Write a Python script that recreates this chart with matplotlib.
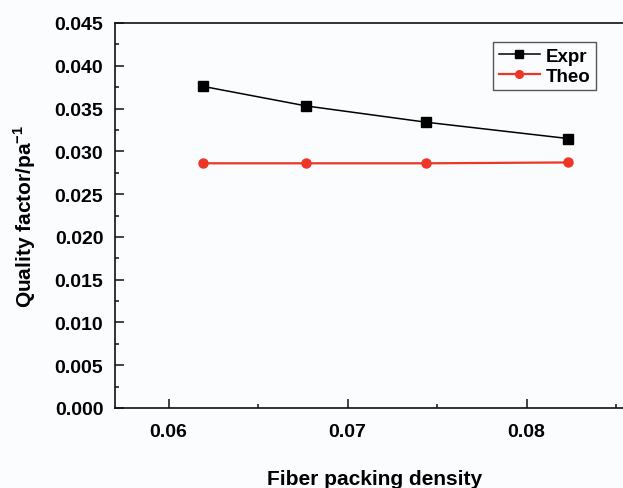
import matplotlib
matplotlib.use('Agg')
import matplotlib.pyplot as plt
from matplotlib.ticker import MultipleLocator

BG = '#fbfcfe'
RED = '#ef3526'

# data
packing_density = [0.0619, 0.0677, 0.0744, 0.0823]
expr_values = [0.0376, 0.0353, 0.0334, 0.0315]
theo_values = [0.0286, 0.0286, 0.0286, 0.0287]
series_labels = ['Expr', 'Theo']

plt.rcParams['font.family'] = ['Liberation Sans', 'DejaVu Sans']
plt.rcParams['font.weight'] = 'bold'
plt.rcParams['mathtext.fontset'] = 'custom'
plt.rcParams['mathtext.rm'] = 'Liberation Sans:bold'
plt.rcParams['mathtext.bf'] = 'Liberation Sans:bold'

fig = plt.figure(figsize=(6.23, 4.89), dpi=100)
fig.patch.set_facecolor(BG)
ax = fig.add_axes([115 / 623, 80 / 489, 510 / 623, 385 / 489])
ax.set_facecolor(BG)

ax.plot(packing_density, expr_values, color='black', lw=1.1, marker='s',
        markersize=6.5, label=series_labels[0])
ax.plot(packing_density, theo_values, color=RED, lw=1.6, marker='o',
        markersize=6.5, label=series_labels[1])

ax.set_xlim(0.057, 0.0855)
ax.set_ylim(0, 0.045)
ax.xaxis.set_major_locator(MultipleLocator(0.01))
ax.xaxis.set_minor_locator(MultipleLocator(0.005))
ax.yaxis.set_major_locator(MultipleLocator(0.005))
ax.yaxis.set_minor_locator(MultipleLocator(0.0025))
ax.xaxis.set_major_formatter(matplotlib.ticker.FormatStrFormatter('%.2f'))
ax.yaxis.set_major_formatter(matplotlib.ticker.FormatStrFormatter('%.3f'))

ax.tick_params(which='both', direction='in', width=1.1, color='#111111',
               top=False, right=False)
ax.tick_params(which='major', length=6.2, labelsize=14)
ax.tick_params(axis='y', which='major', pad=8.4)
ax.tick_params(axis='x', which='major', pad=10.8)
ax.tick_params(which='minor', length=3)
for lbl in ax.get_xticklabels() + ax.get_yticklabels():
    lbl.set_fontweight('bold')
for sp in ax.spines.values():
    sp.set_linewidth(1.2)
    sp.set_color('#111111')

ax.set_xlabel('Fiber packing density', fontsize=15, fontweight='bold')
ax.xaxis.set_label_coords(0.509, -0.158)
ax.set_ylabel(r'Quality factor/pa$^{\mathbf{-1}}$', fontsize=15, fontweight='bold')
ax.yaxis.set_label_coords(-0.15, 0.5)

leg = ax.legend(loc='upper right', bbox_to_anchor=(596 / 623, 1 - 43 / 489),
                bbox_transform=fig.transFigure, borderaxespad=0,
                prop={'size': 13.5, 'weight': 'bold'}, handlelength=2.2,
                handletextpad=0.3, labelspacing=0.15, borderpad=0.3,
                markerscale=0.85,
                fancybox=False, framealpha=1, edgecolor='#555555')
leg.get_frame().set_linewidth(1.0)
leg.get_frame().set_facecolor(BG)

fig.savefig('out.png', dpi=100, facecolor=BG)
